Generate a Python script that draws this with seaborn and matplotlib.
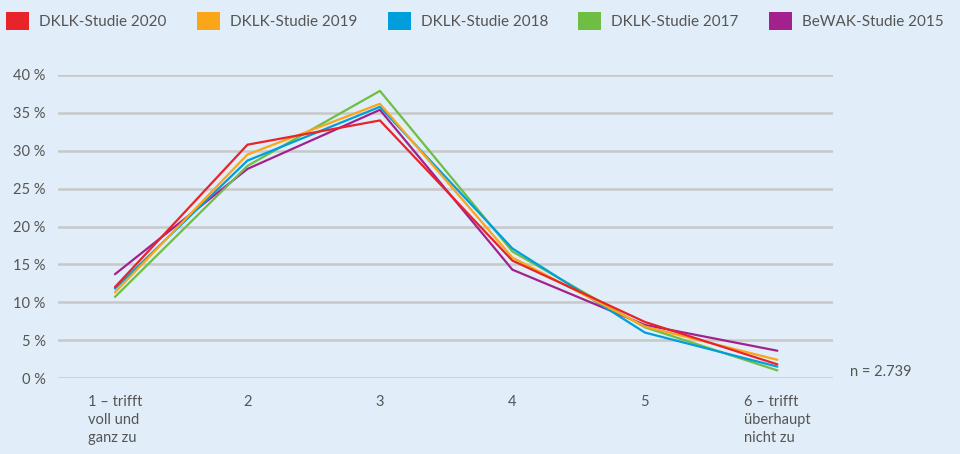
import matplotlib.pyplot as plt
import pandas as pd
import seaborn as sb
import numpy as np
from matplotlib.patches import Patch

# Daten (Anteile in %)
stufen = [1, 2, 3, 4, 5, 6]
stufen_labels = ['1 – trifft\nvoll und\nganz zu', '2', '3', '4', '5', '6 – trifft\nüberhaupt\nnicht zu']
studien = ['DKLK-Studie 2020', 'DKLK-Studie 2019', 'DKLK-Studie 2018', 'DKLK-Studie 2017', 'BeWAK-Studie 2015']
dklk_2020 = [12.0, 30.8, 34.0, 15.5, 7.4, 1.8]
dklk_2019 = [11.3, 29.5, 36.2, 15.9, 6.8, 2.4]
dklk_2018 = [11.8, 28.7, 35.8, 17.1, 6.0, 1.5]
dklk_2017 = [10.7, 28.0, 37.9, 16.7, 6.7, 1.0]
bewak_2015 = [13.7, 27.6, 35.4, 14.3, 7.0, 3.6]
farben = ['#e8232a', '#f9a61a', '#009fdb', '#6fbe44', '#a3218e']

bg = '#e1edf8'
grau = '#555555'

sb.set_style('white')
plt.rcParams['font.family'] = ['Lato', 'DejaVu Sans']

werte = [dklk_2020, dklk_2019, dklk_2018, dklk_2017, bewak_2015]
df = pd.DataFrame({
    'stufe': np.tile(stufen, len(studien)),
    'anteil': np.concatenate(werte),
    'studie': np.repeat(studien, len(stufen)),
})

fig = plt.figure(figsize=(9.6, 4.54), dpi=100, facecolor=bg)
ax = fig.add_axes([58 / 960, 1 - 378 / 454, (833 - 58) / 960, (378 - 75) / 454])
ax.set_facecolor(bg)

# Reihenfolge: ältere Studien zuerst, 2020 oben
for name, farbe in reversed(list(zip(studien, farben))):
    sb.lineplot(data=df[df.studie == name], x='stufe', y='anteil', color=farbe,
                linewidth=1.6, ax=ax, legend=False, clip_on=False, zorder=3)

ax.set_xlim(0.57, 6.42)
ax.set_ylim(0, 40)
ax.set_yticks(range(0, 41, 5))
ax.set_yticklabels([f'{v} %' for v in range(0, 41, 5)])
ax.set_xticks(stufen)
ax.set_xticklabels(stufen_labels, multialignment='left', linespacing=1.4)
ax.grid(axis='y', color='#c8c8c8', linewidth=1.8, zorder=0)
ax.set_axisbelow(True)
for s in ax.spines.values():
    s.set_visible(False)
ax.tick_params(axis='both', length=0, colors=grau, labelsize=10.5)
ax.tick_params(axis='y', pad=9)
ax.tick_params(axis='x', pad=12)
ax.set_xlabel('')
ax.set_ylabel('')

ax.text(6.55, 0.8, 'n = 2.739', color=grau, fontsize=10.5, va='center', ha='left')

handles = [Patch(facecolor=f, edgecolor='none') for f in farben]
leg = fig.legend(handles, studien, loc='upper left', bbox_to_anchor=(0.0, 0.988), ncol=5,
                 frameon=False, fontsize=11, handlelength=1.5, handleheight=1.5,
                 handletextpad=0.65, columnspacing=2.0, borderaxespad=0.1,
                 borderpad=0.3, labelcolor=grau)

fig.savefig('out.png', dpi=100, facecolor=bg)
